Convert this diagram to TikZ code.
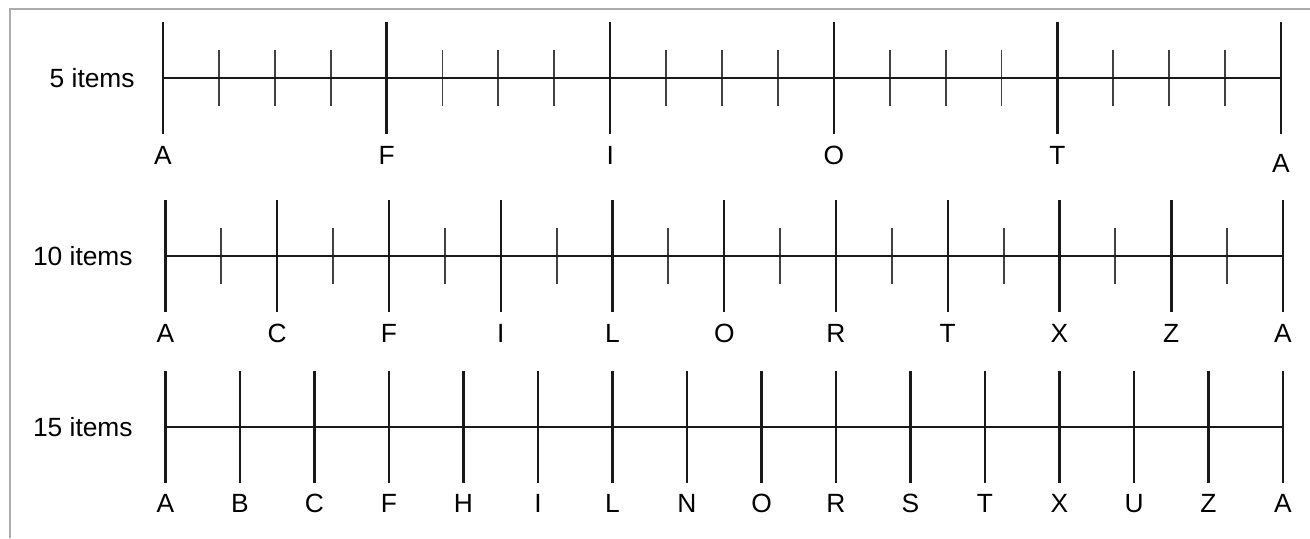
\documentclass[tikz,border=0pt]{standalone}
\usepackage{fontspec}
\setmainfont{Liberation Sans}
\usetikzlibrary{positioning}

\begin{document}
\begin{tikzpicture}[x=0.02cm, y=-0.02cm,
  % Line styles
  axis/.style={line width=1.4pt, black!90},
  major/.style={line width=1.4pt, black!90},
  minor/.style={line width=1.1pt, black!75},
  frame/.style={line width=1.2pt, gray!65},
  % Text styles
  lbl/.style={font=\fontsize{15}{18}\selectfont, inner sep=0pt, anchor=base},
  rowname/.style={font=\fontsize{15}{18}\selectfont, inner sep=0pt, anchor=east},
]
\useasboundingbox (0,0) rectangle (1310,538);

% === Frame (cut by the page edges) ===
\draw[frame] (10,538) -- (10,9) -- (1310,9);

% === Row 1: 5 items ===
\node[rowname] (N1) at (135,78) {5 items};
\foreach \l/\dy [count=\i from 0] in {A/0,F/0,I/0,O/0,T/0,A/8} {
  \coordinate (P1-\i) at (163+\i*223.6, 78);
  \draw[major] (P1-\i) ++(0,-56) -- ++(0,112);
  \path (P1-\i) ++(0,86.5+\dy) node[lbl] (L1-\i) {\l};
}
\foreach \i in {0,...,4}
  \foreach \j in {1,2,3}
    \draw[minor] (163+\i*223.6+\j*55.9, 50) -- ++(0,56);
\draw[axis] (P1-0) -- (P1-5);

% === Row 2: 10 items ===
\node[rowname] (N2) at (133,256) {10 items};
\foreach \l [count=\i from 0] in {A,C,F,I,L,O,R,T,X,Z,A} {
  \coordinate (P2-\i) at (165.5+\i*111.75, 256);
  \draw[major] (P2-\i) ++(0,-56) -- ++(0,112);
  \path (P2-\i) ++(0,86.5) node[lbl] (L2-\i) {\l};
}
\foreach \i in {0,...,9}
  \draw[minor] (165.5+\i*111.75+55.9, 228) -- ++(0,56);
\draw[axis] (P2-0) -- (P2-10);

% === Row 3: 15 items ===
\node[rowname] (N3) at (133,427) {15 items};
\foreach \l [count=\i from 0] in {A,B,C,F,H,I,L,N,O,R,S,T,X,U,Z,A} {
  \coordinate (P3-\i) at (165.5+\i*74.5, 427);
  \draw[major] (P3-\i) ++(0,-56) -- ++(0,112);
  \path (P3-\i) ++(0,85.5) node[lbl] (L3-\i) {\l};
}
\draw[axis] (P3-0) -- (P3-15);

\end{tikzpicture}
\end{document}
